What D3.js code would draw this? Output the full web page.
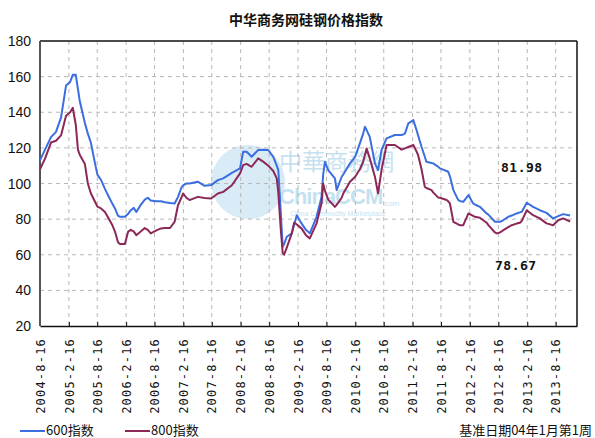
<!DOCTYPE html>
<html lang="zh">
<head>
<meta charset="UTF-8">
<title>中华商务网硅钢价格指数</title>
<script src="https://d3js.org/d3.v7.min.js"></script>
<style>
    body { margin: 0; background: #fff; }
    svg { display: block; background: #fff; }
    .grid line { stroke: #b8b8b8; stroke-dasharray: 4,4; }
    .ylab { font-family: "Liberation Sans", Arial, sans-serif; font-size: 14px; fill: #111; }
    .xlab { font-family: "DejaVu Sans Mono", monospace; font-size: 12px; fill: #111; letter-spacing: 1.2px; }
    .note { font-family: "DejaVu Sans Mono", monospace; font-size: 13px; font-weight: bold; fill: #111; letter-spacing: 0.5px; }
    .legend { font-family: "Noto Sans CJK SC", sans-serif; font-size: 13px; fill: #111; }
</style>
</head>
<body>
<svg width="595" height="438"></svg>
<script>
// weekly index, sampled from the chart
var dates = ["2004-08-16","2004-09-17","2004-10-25","2004-11-26","2004-12-28","2005-01-29","2005-02-24","2005-03-13","2005-04-01","2005-04-15",
    "2005-04-27","2005-05-29","2005-06-17","2005-07-06","2005-07-31","2005-08-17","2005-09-09","2005-10-04","2005-10-23","2005-11-18",
    "2005-12-07","2005-12-26","2006-01-08","2006-02-08","2006-03-01","2006-03-18","2006-04-06","2006-04-22","2006-05-20","2006-06-15",
    "2006-07-04","2006-07-23","2006-08-25","2006-09-26","2006-10-21","2006-11-23","2006-12-22","2007-01-13","2007-02-03","2007-02-14",
    "2007-03-07","2007-03-27","2007-05-19","2007-07-01","2007-08-12","2007-09-24","2007-10-28","2007-12-22","2008-02-12","2008-03-03",
    "2008-03-25","2008-04-26","2008-06-07","2008-07-13","2008-08-10","2008-09-11","2008-10-03","2008-10-13","2008-10-28","2008-11-10",
    "2008-11-19","2008-12-06","2009-01-07","2009-01-22","2009-02-08","2009-03-10","2009-04-07","2009-05-02","2009-06-14","2009-07-16",
    "2009-07-26","2009-08-06","2009-08-27","2009-10-09","2009-10-20","2009-11-21","2009-12-01","2010-01-13","2010-02-15","2010-03-17",
    "2010-04-07","2010-04-18","2010-04-29","2010-05-19","2010-06-21","2010-07-11","2010-08-02","2010-09-03","2010-10-26","2010-12-08",
    "2010-12-29","2011-01-20","2011-02-21","2011-03-13","2011-03-23","2011-04-14","2011-05-05","2011-05-15","2011-06-17","2011-06-27",
    "2011-07-28","2011-08-09","2011-09-21","2011-10-01","2011-10-12","2011-11-03","2011-12-04","2011-12-15","2012-01-05","2012-02-07",
    "2012-03-08","2012-03-19","2012-04-20","2012-06-02","2012-06-13","2012-07-25","2012-08-05","2012-08-26","2012-09-17","2012-10-18",
    "2012-11-09","2012-12-10","2012-12-31","2013-01-12","2013-02-13","2013-03-25","2013-05-07","2013-06-19","2013-07-31","2013-09-01",
    "2013-10-03","2013-11-16"];

var idx600 = [113,119,126,129,137,155,157,161,161,153,
    146,134,128,123,112,105,102,97,93.5,89,
    86,82,81.3,81.3,83,85,86.3,84,88,91,
    92,90.5,90,90,89.5,89,88.8,92.5,97.6,99,
    100,100,101,98.7,99.1,101.9,102.9,106,108.5,117.8,
    117.8,115,118.8,119,118.8,115,110,107.5,85,64.4,
    66,70.1,72,77,82.2,77.6,74,72,81.3,92.5,
    105,112.2,107.5,102.9,96.3,103.8,105,111.3,115,122.5,
    128,131.9,130,126.2,111.3,107.5,118.8,125.3,127.2,127.2,
    128,133.8,135.6,130,127,120.6,115,112.2,111.5,111.3,
    109.5,108.5,107,106.6,104,96.3,90.7,90.2,89.7,93.5,
    88.8,88.2,86.9,83.2,82.5,78.5,78.5,78.5,79.5,81.3,
    82,83.2,83.8,84.1,89.2,86.9,85,83.5,80.4,81.7,
    82.8,81.98];

var idx800 = [108,114,123,124,127,138,140,142.5,133,119,
    116,111,100,94.5,90,87,86,84,81,77,
    73,67,66,66,73,74,73,71,73,75,
    74,72,73.5,74.8,75,75,78.5,87.9,92,94.4,
    92,90.7,92.5,91.8,91.6,94.4,95.3,99,105.7,110.3,
    111,109.4,114.1,112,110,107,102.9,95,75,61,
    60,64,72,78,77,74.8,71,69.2,77.6,89,
    100,96,91,86.9,88,92,94.4,101,103.8,108,
    112.2,116,119.7,114.1,103.8,94.4,107.5,121.6,121.6,119,
    119.7,120.5,121.6,118,116,108,98.1,97.5,96.3,95,
    92.2,92,90.7,90,88.8,78.5,77,76.6,76.6,83.2,
    81.8,81.3,80.8,78,76.6,72.5,72,72.5,73.8,75.5,
    76.6,77.5,78,79,85,82.2,80.4,77.6,76.6,79.4,
    80.4,78.67];

var tickLabels = ["2004-8-16","2005-2-16","2005-8-16","2006-2-16","2006-8-16","2007-2-16","2007-8-16",
    "2008-2-16","2008-8-16","2009-2-16","2009-8-16","2010-2-16","2010-8-16","2011-2-16","2011-8-16",
    "2012-2-16","2012-8-16","2013-2-16","2013-8-16"];
var yTicks = [20, 40, 60, 80, 100, 120, 140, 160, 180];

var parse = d3.timeParse("%Y-%m-%d");
var plot = { x0: 40, x1: 577, y0: 41, y1: 326 };

var svg = d3.select("svg");

var x = d3.scaleTime()
    .domain([parse("2004-08-16"), parse("2013-12-30")])
    .range([plot.x0, plot.x1]);
var y = d3.scaleLinear().domain([20, 180]).range([plot.y1, plot.y0]);

// watermark
var wm = svg.append("g").attr("opacity", 0.45);
wm.append("circle").attr("cx", 248).attr("cy", 182).attr("r", 37).attr("fill", "#a9d3ea");
wm.append("text").attr("x", 279).attr("y", 170)
    .attr("font-family", "Noto Sans CJK TC, sans-serif").attr("font-size", 23)
    .attr("fill", "#7fbde0").text("中華商務網");
wm.append("text").attr("x", 279).attr("y", 204)
    .attr("font-family", "Liberation Sans, sans-serif").attr("font-size", 22).attr("font-weight", "bold")
    .attr("fill", "#7fbde0").attr("letter-spacing", -1).text("ChinaCCM");
wm.append("text").attr("x", 382).attr("y", 206)
    .attr("font-family", "Liberation Sans, sans-serif").attr("font-size", 8)
    .attr("fill", "#7fbde0").text(".com");
wm.append("text").attr("x", 290).attr("y", 216)
    .attr("font-family", "Liberation Sans, sans-serif").attr("font-size", 7)
    .attr("fill", "#7fbde0").text("China Commodity Marketplace");

// grid
var tickDates = tickLabels.map(function(d) { return parse(d); });
svg.append("g").attr("class", "grid")
    .selectAll("line").data(yTicks.slice(1, -1)).enter().append("line")
    .attr("x1", plot.x0).attr("x2", plot.x1)
    .attr("y1", function(d) { return y(d); }).attr("y2", function(d) { return y(d); });
svg.append("g").attr("class", "grid")
    .selectAll("line").data(tickDates.slice(1)).enter().append("line")
    .attr("x1", function(d) { return x(d); }).attr("x2", function(d) { return x(d); })
    .attr("y1", plot.y0).attr("y2", plot.y1);

// x axis
var xAxis = svg.append("g")
    .attr("transform", "translate(0," + plot.y1 + ")")
    .call(d3.axisBottom(x).tickValues(tickDates).tickSizeInner(-4).tickSizeOuter(0)
        .tickFormat(function(d, i) { return tickLabels[i]; }));
xAxis.select(".domain").attr("stroke", "#111").attr("stroke-width", 1.5);
xAxis.selectAll(".tick line").attr("stroke", "#111");
xAxis.selectAll("text")
    .attr("class", "xlab")
    .attr("transform", "rotate(-90)")
    .attr("text-anchor", "end")
    .attr("x", -12).attr("y", 0).attr("dy", "0.35em");

// y labels
svg.selectAll(".ylab").data(yTicks).enter().append("text")
    .attr("class", "ylab")
    .attr("x", 31).attr("y", function(d) { return y(d); })
    .attr("dy", "0.36em").attr("text-anchor", "end")
    .text(function(d) { return d; });

// frame
svg.append("line").attr("x1", plot.x0).attr("x2", plot.x1).attr("y1", plot.y0).attr("y2", plot.y0)
    .attr("stroke", "#111").attr("stroke-width", 1.5);
svg.append("line").attr("x1", plot.x1).attr("x2", plot.x1).attr("y1", plot.y0).attr("y2", plot.y1)
    .attr("stroke", "#111").attr("stroke-width", 1.5);
svg.append("line").attr("x1", plot.x0).attr("x2", plot.x0).attr("y1", plot.y0).attr("y2", plot.y1)
    .attr("stroke", "#555").attr("stroke-width", 2);

// lines
var line = d3.line()
    .x(function(d, i) { return x(parse(dates[i])); })
    .y(function(d) { return y(d); });
svg.append("path").datum(idx600)
    .attr("fill", "none").attr("stroke", "#3b6ee0").attr("stroke-width", 2)
    .attr("stroke-linejoin", "round").attr("d", line);
svg.append("path").datum(idx800)
    .attr("fill", "none").attr("stroke", "#8c2858").attr("stroke-width", 2)
    .attr("stroke-linejoin", "round").attr("d", line);

// title
svg.append("text").attr("x", 306).attr("y", 25).attr("text-anchor", "middle")
    .attr("font-family", "Noto Sans CJK SC, sans-serif").attr("font-size", 14).attr("font-weight", "bold")
    .attr("fill", "#111").text("中华商务网硅钢价格指数");

// last values
svg.append("text").attr("class", "note").attr("x", 501).attr("y", 172).text(idx600[idx600.length - 1].toFixed(2));
svg.append("text").attr("class", "note").attr("x", 495).attr("y", 270).text(idx800[idx800.length - 1].toFixed(2));

// legend
var lg = svg.append("g");
lg.append("line").attr("x1", 20).attr("x2", 45).attr("y1", 431).attr("y2", 431)
    .attr("stroke", "#3b6ee0").attr("stroke-width", 2);
lg.append("text").attr("class", "legend").attr("x", 46).attr("y", 435).text("600指数");
lg.append("line").attr("x1", 125).attr("x2", 150).attr("y1", 431).attr("y2", 431)
    .attr("stroke", "#8c2858").attr("stroke-width", 2);
lg.append("text").attr("class", "legend").attr("x", 151).attr("y", 435).text("800指数");
svg.append("text").attr("class", "legend").attr("x", 592).attr("y", 435).attr("text-anchor", "end")
    .text("基准日期04年1月第1周");
</script>
</body>
</html>
